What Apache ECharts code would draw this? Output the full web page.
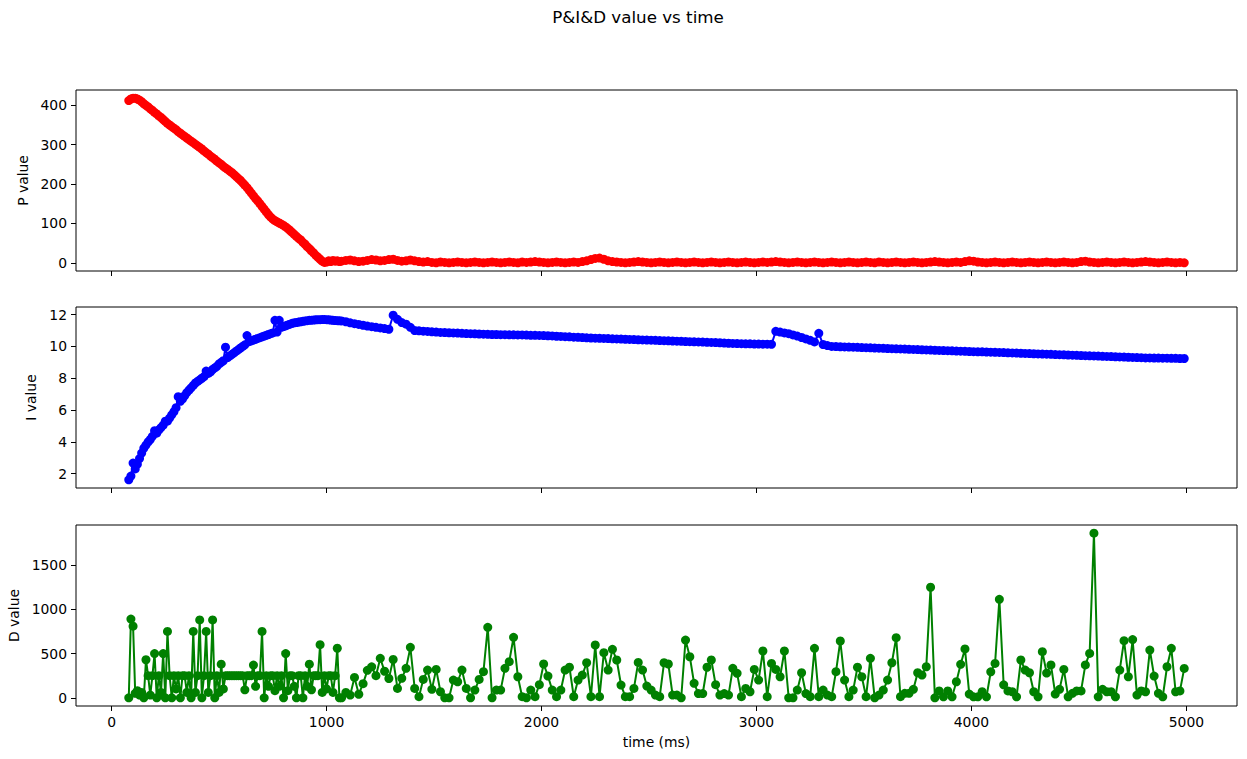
<!DOCTYPE html>
<html><head><meta charset="utf-8">
<script src="https://cdn.jsdelivr.net/npm/echarts@6/dist/echarts.min.js"></script>
<style>html,body{margin:0;padding:0;background:#fff}#c{width:1247px;height:759px}</style>
</head><body><div id="c"></div><script>
// ---- data ----
const timeMs = [
80,90,100,110,120,130,140,150,160,170,
180,190,200,210,220,230,240,250,260,270,
280,290,300,310,320,330,340,350,360,370,
380,390,400,410,420,430,440,450,460,470,
480,490,500,510,520,530,540,550,560,570,
580,590,600,610,620,630,640,650,660,670,
680,690,700,710,720,730,740,750,760,770,
780,790,800,810,820,830,840,850,860,870,
880,890,900,910,920,930,940,950,960,970,
980,990,1000,1010,1020,1030,1040,1050,1060,
1070,1090,1110,1130,1150,1170,1190,1210,1230,1250,
1270,1290,1310,1330,1350,1370,1390,1410,1430,1450,
1470,1490,1510,1530,1550,1570,1590,1610,1630,1650,
1670,1690,1710,1730,1750,1770,1790,1810,1830,1850,
1870,1890,1910,1930,1950,1970,1990,2010,2030,2050,
2070,2090,2110,2130,2150,2170,2190,2210,2230,2250,
2270,2290,2310,2330,2350,2370,2390,2410,2430,2450,
2470,2490,2510,2530,2550,2570,2590,2610,2630,2650,
2670,2690,2710,2730,2750,2770,2790,2810,2830,2850,
2870,2890,2910,2930,2950,2970,2990,3010,3030,3050,
3070,3090,3110,3130,3150,3170,3190,3210,3230,3250,
3270,3290,3310,3330,3350,3370,3390,3410,3430,3450,
3470,3490,3510,3530,3550,3570,3590,3610,3630,3650,
3670,3690,3710,3730,3750,3770,3790,3810,3830,3850,
3870,3890,3910,3930,3950,3970,3990,4010,4030,4050,
4070,4090,4110,4130,4150,4170,4190,4210,4230,4250,
4270,4290,4310,4330,4350,4370,4390,4410,4430,4450,
4470,4490,4510,4530,4550,4570,4590,4610,4630,4650,
4670,4690,4710,4730,4750,4770,4790,4810,4830,4850,
4870,4890,4910,4930,4950,4970,4990
];
const pValue = [
412,416,418,418,416,413,409,404,400,396,
391,387,382,378,373,369,364,359,354,350,
346,342,338,333,329,325,321,317,313,309,
305,301,297,293,289,284,280,276,271,267,
263,258,254,250,245,241,237,233,229,224,
219,214,209,203,197,191,184,177,170,163,
157,150,143,136,129,122,116,111,107,104,
101,98,95,91,87,82,77,72,67,62,
58,52,47,41,36,30,25,19,14,9,
4,1,2,5,3,6,4,5,3,
4,6,7,5,3,4,6,8,7,5,
6,8,9,6,4,5,7,5,3,2,
3,1,0,2,1,0,1,2,1,0,
1,2,1,0,1,2,1,0,1,2,
1,0,2,1,2,3,2,1,0,1,
2,1,0,1,2,1,3,5,8,11,
12,9,5,3,2,1,0,1,2,3,
2,1,0,1,2,1,0,1,2,1,
0,1,2,1,0,1,2,1,0,1,
2,1,0,1,2,1,0,1,2,1,
2,3,2,1,0,1,2,1,0,1,
2,1,0,1,2,1,0,1,2,1,
0,1,2,1,0,2,1,0,1,2,
1,0,1,2,1,0,1,2,3,2,
1,0,1,2,1,3,5,4,2,1,
0,1,2,1,0,1,2,1,0,1,
2,1,0,1,2,1,0,1,2,1,
0,1,3,4,2,1,0,1,2,1,
0,1,2,1,0,1,2,3,2,1,
0,1,2,1,0,1,0
];
const iValue = [
1.62,1.85,2.67,2.3,2.6,2.95,3.3,3.6,3.8,4.0,
4.15,4.35,4.7,4.55,4.75,4.9,5.05,5.3,5.3,5.5,
5.7,5.9,6.15,6.84,6.55,6.7,6.9,7.1,7.25,7.4,
7.55,7.7,7.8,7.9,8.0,8.1,8.45,8.3,8.4,8.55,
8.65,8.75,8.9,9.0,9.1,9.95,9.3,9.4,9.5,9.6,
9.7,9.8,9.9,10.0,10.1,10.68,10.3,10.35,10.4,10.45,
10.5,10.55,10.6,10.65,10.7,10.75,10.8,10.85,11.64,10.9,
11.64,11.2,11.25,11.3,11.35,11.4,11.45,11.48,11.5,11.53,
11.55,11.58,11.6,11.62,11.64,11.65,11.66,11.67,11.68,11.68,
11.69,11.69,11.68,11.67,11.66,11.64,11.63,11.62,11.61,
11.60,11.55,11.48,11.43,11.38,11.33,11.28,11.24,11.20,11.16,
11.12,11.08,11.96,11.70,11.50,11.40,11.20,11.00,10.98,10.96,
10.94,10.92,10.90,10.88,10.87,10.86,10.85,10.84,10.82,10.81,
10.80,10.79,10.78,10.77,10.76,10.75,10.75,10.74,10.74,10.73,
10.73,10.72,10.72,10.71,10.70,10.70,10.69,10.68,10.67,10.66,
10.64,10.63,10.61,10.60,10.58,10.57,10.56,10.54,10.53,10.52,
10.51,10.50,10.49,10.48,10.47,10.46,10.45,10.44,10.43,10.42,
10.41,10.40,10.39,10.38,10.37,10.36,10.35,10.34,10.33,10.32,
10.31,10.30,10.29,10.28,10.27,10.26,10.25,10.24,10.23,10.21,
10.20,10.19,10.18,10.17,10.16,10.16,10.15,10.15,10.14,10.14,
10.13,10.95,10.90,10.85,10.80,10.72,10.65,10.56,10.47,10.38,
10.28,10.82,10.12,10.05,10.00,9.99,9.98,9.97,9.96,9.95,
9.94,9.93,9.92,9.91,9.90,9.89,9.88,9.87,9.86,9.85,
9.84,9.83,9.82,9.81,9.80,9.79,9.78,9.77,9.76,9.75,
9.74,9.73,9.72,9.71,9.70,9.69,9.68,9.67,9.66,9.66,
9.65,9.64,9.63,9.62,9.61,9.60,9.59,9.58,9.57,9.56,
9.55,9.54,9.53,9.52,9.51,9.50,9.49,9.48,9.47,9.46,
9.45,9.44,9.43,9.42,9.41,9.40,9.39,9.38,9.37,9.36,
9.35,9.34,9.33,9.32,9.31,9.30,9.29,9.28,9.28,9.27,
9.27,9.26,9.26,9.25,9.25,9.24,9.24
];
const dValue = [
0,890,810,50,80,30,60,0,430,250,
30,250,500,0,250,60,500,0,750,250,
0,250,100,250,0,250,250,60,250,0,
750,60,250,880,0,250,750,60,250,880,
0,250,60,380,100,250,250,250,250,250,
250,250,250,250,90,250,250,250,370,130,
250,250,750,0,250,130,250,250,80,250,
130,250,0,500,80,250,250,130,0,250,
250,0,250,130,380,90,250,250,250,600,
60,250,100,250,250,60,250,560,0,
0,60,30,230,40,160,310,350,250,446,
300,218,433,106,220,333,570,106,12,208,
313,95,321,68,0,0,200,181,313,106,
0,87,208,295,797,0,87,87,333,408,
684,238,12,0,87,12,148,382,245,87,
12,87,313,345,12,200,257,396,12,597,
12,510,313,548,427,144,12,12,106,400,
313,132,87,30,12,396,382,30,30,0,
653,464,163,48,48,345,427,148,30,48,
30,333,276,12,106,68,321,200,529,12,
389,321,238,529,0,0,87,283,48,12,
559,12,87,30,12,295,642,200,12,87,
345,238,12,446,0,30,87,200,396,680,
12,50,50,95,283,257,351,1250,0,78,
11,78,11,181,378,552,42,11,11,68,
11,294,388,1114,147,78,68,11,427,313,
283,68,11,521,279,372,42,95,321,11,
50,78,78,372,502,1861,11,95,68,68,
11,313,646,238,658,30,78,68,540,245,
50,11,351,559,68,78,332
];
const xTicks = [0, 1000, 2000, 3000, 4000, 5000];
const pTicks = [0, 100, 200, 300, 400];
const iTicks = [2, 4, 6, 8, 10, 12];
const dTicks = [0, 500, 1000, 1500];
const titleText = 'P&I&D value vs time';
const xName = 'time (ms)';
const yNames = ['P value', 'I value', 'D value'];

// ---- chart ----
const FONT = 'DejaVu Sans';
const FS = 13.9;
function padRange(arr) {
  const mn = Math.min(...arr), mx = Math.max(...arr), m = (mx - mn) * 0.05;
  return [mn - m, mx + m];
}
const xr = padRange(timeMs);
const yRanges = [padRange(pValue), padRange(iValue), padRange(dValue)];
const yTickSets = [pTicks, iTicks, dTicks];
const values = [pValue, iValue, dValue];
const colors = ['#ff0000', '#0000ff', '#008000'];
const tops = [90, 307, 525];
const nameGaps = [41, 33, 53];
const plain = v => String(v);

const chart = echarts.init(document.getElementById('c'), null, {renderer: 'svg', width: 1247, height: 759});
const option = {
  animation: false,
  backgroundColor: '#ffffff',
  graphic: [{
    type: 'text', x: 638, y: 16.5,
    style: {text: titleText, fontFamily: FONT, fontSize: 16.7, fill: '#000', align: 'center', verticalAlign: 'middle'}
  }],
  grid: tops.map(t => ({left: 76, width: 1161, top: t, height: 181, show: true, borderColor: '#000', borderWidth: 1,
    backgroundColor: 'transparent', containLabel: false, outerBoundsMode: 'none'})),
  xAxis: tops.map((t, i) => ({
    type: 'value', gridIndex: i, min: xr[0], max: xr[1], position: 'bottom',
    axisLine: {show: false, onZero: false}, splitLine: {show: false},
    axisTick: {show: true, length: 5, inside: false, lineStyle: {color: '#000', width: 1}, customValues: xTicks},
    axisLabel: {show: i === 2, customValues: xTicks, formatter: plain, color: '#000', fontFamily: FONT, fontSize: FS, margin: 9},
    name: i === 2 ? xName : '', nameLocation: 'middle', nameGap: 29,
    nameTextStyle: {color: '#000', fontFamily: FONT, fontSize: FS}
  })),
  yAxis: tops.map((t, i) => ({
    type: 'value', gridIndex: i, min: yRanges[i][0], max: yRanges[i][1], position: 'left',
    axisLine: {show: false, onZero: false}, splitLine: {show: false},
    axisTick: {show: true, length: 5, inside: false, lineStyle: {color: '#000', width: 1}, customValues: yTickSets[i]},
    axisLabel: {show: true, customValues: yTickSets[i], formatter: plain, color: '#000', fontFamily: FONT, fontSize: FS, margin: 9},
    name: yNames[i], nameLocation: 'middle', nameRotate: 90, nameGap: nameGaps[i],
    nameTextStyle: {color: '#000', fontFamily: FONT, fontSize: FS}
  })),
  series: values.map((vals, i) => ({
    type: 'line', xAxisIndex: i, yAxisIndex: i,
    data: timeMs.map((t, k) => [t, vals[k]]),
    symbol: 'circle', symbolSize: 9, showSymbol: true,
    itemStyle: {color: colors[i]},
    lineStyle: {color: colors[i], width: 2},
    emphasis: {disabled: true}, silent: true, clip: true
  }))
};
chart.setOption(option);
</script></body></html>
